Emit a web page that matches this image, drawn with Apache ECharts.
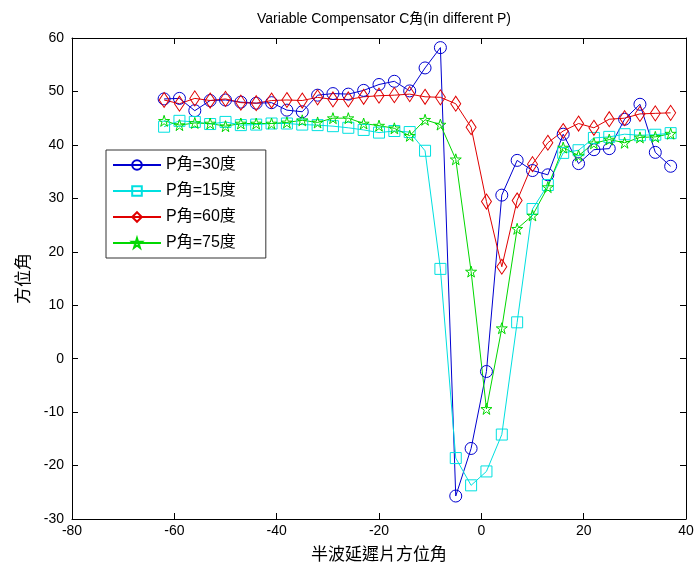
<!DOCTYPE html>
<html>
<head>
<meta charset="utf-8">
<script src="https://cdn.jsdelivr.net/npm/echarts@6/dist/echarts.min.js"></script>
<style>html,body{margin:0;padding:0;background:#fff}#c{width:697px;height:571px}</style>
</head>
<body>
<div id="c"></div>
<script>
const xValues = [-62,-59,-56,-53,-50,-47,-44,-41,-38,-35,-32,-29,-26,-23,-20,-17,-14,-11,-8,-5,-2,1,4,7,10,13,16,19,22,25,28,31,34,37];
const p30 = [48.6,48.7,46.4,48.3,48.4,48.0,47.8,47.9,46.5,46.2,49.3,49.6,49.5,50.2,51.3,51.9,50.1,54.4,58.2,-25.7,-16.8,-2.4,30.6,37.1,35.2,34.4,42.0,36.5,39.1,39.3,44.8,47.6,38.6,36.0];
const p15 = [43.4,44.5,44.3,43.9,44.3,43.7,43.8,44.0,44.0,43.8,43.7,43.5,43.2,42.8,42.3,42.6,42.4,38.9,16.8,-18.6,-23.7,-21.1,-14.2,6.8,28.0,32.5,38.5,39.0,41.3,41.5,42.0,41.8,41.9,42.2];
const p60 = [48.4,47.7,48.7,48.3,48.6,47.9,47.8,48.3,48.4,48.3,48.9,48.5,48.5,49.0,49.2,49.3,49.5,49.0,48.9,47.7,43.3,29.4,17.2,29.6,36.4,40.4,42.6,44.0,43.2,44.8,45.0,45.8,45.9,46.0];
const p75 = [44.5,43.7,44.1,44.0,43.5,44.0,44.0,44.0,44.2,44.6,44.2,45.0,45.0,44.0,43.6,43.1,41.7,44.7,43.8,37.3,16.3,-9.4,5.7,24.3,26.8,32.1,39.5,38.0,40.3,41.0,40.4,41.4,41.5,42.1];
const seriesNames = ['P角=30度','P角=15度','P角=60度','P角=75度'];
const xTicks = {min:-80, max:40, interval:20};
const yTicks = {min:-30, max:60, interval:10};

const FONT = "'Liberation Sans Narrow','Liberation Sans',Arial,'Noto Sans CJK TC','Noto Sans CJK SC',sans-serif";
const STAR = 'path://M50,0 L61.2,34.5 L97.6,34.5 L68.2,55.9 L79.4,90.5 L50,69.1 L20.6,90.5 L31.8,55.9 L2.4,34.5 L38.8,34.5 Z';

function pairs(ys){ return xValues.map((x,i)=>[x, ys[i]]); }
function mk(name, ys, color, symbol, size){
  return {
    name, type:'line', data: pairs(ys), symbol, symbolSize: size,
    showAllSymbol:true, animation:false,
    lineStyle:{color, width:1},
    itemStyle:{color:'rgba(255,255,255,0)', borderColor:color, borderWidth:1},
    emphasis:{disabled:true},
    xAxisIndex:0, yAxisIndex:0
  };
}

const chart = echarts.init(document.getElementById('c'), null, {renderer:'canvas'});
const axisCommon = {
  axisLine:{show:true, onZero:false, lineStyle:{color:'#000', width:1}},
  axisTick:{show:true, inside:true, length:6, lineStyle:{color:'#000'}},
  splitLine:{show:false}
};
chart.setOption({
  backgroundColor:'#fff',
  animation:false,
  textStyle:{fontFamily:FONT},
  title:{
    text:'Variable Compensator C角(in different P)',
    left:379, top:7, textAlign:'center',
    textStyle:{fontFamily:FONT, fontSize:14, fontWeight:'normal', color:'#000'}
  },
  grid:{left:72, right:11, top:38, bottom:52, containLabel:false},
  legend:{
    data: seriesNames,
    orient:'vertical', left:106, top:150,
    itemWidth:48, itemHeight:12, itemGap:10,
    backgroundColor:'#fff', borderColor:'#333', borderWidth:1,
    padding:[7,30,7,6],
    textStyle:{fontFamily:FONT, fontSize:16, color:'#000'},
    selectedMode:false
  },
  xAxis:[
    Object.assign({type:'value', position:'bottom', min:xTicks.min, max:xTicks.max, interval:xTicks.interval,
      name:'半波延遲片方位角', nameLocation:'middle', nameGap:28,
      nameTextStyle:{fontFamily:FONT, fontSize:17, color:'#000'},
      axisLabel:{color:'#000', fontSize:14, fontFamily:FONT, margin:5}}, axisCommon),
    Object.assign({type:'value', position:'top', min:xTicks.min, max:xTicks.max, interval:xTicks.interval,
      axisLabel:{show:false}}, axisCommon)
  ],
  yAxis:[
    Object.assign({type:'value', position:'left', min:yTicks.min, max:yTicks.max, interval:yTicks.interval,
      name:'方位角', nameLocation:'middle', nameGap:36, nameRotate:90,
      nameTextStyle:{fontFamily:FONT, fontSize:17, color:'#000'},
      axisLabel:{color:'#000', fontSize:14, fontFamily:FONT, margin:8}}, axisCommon),
    Object.assign({type:'value', position:'right', min:yTicks.min, max:yTicks.max, interval:yTicks.interval,
      axisLabel:{show:false}}, axisCommon)
  ],
  series:[
    mk(seriesNames[0], p30, '#0000d0', 'circle', 12),
    mk(seriesNames[1], p15, '#00e0e0', 'rect', 11),
    mk(seriesNames[2], p60, '#e00000', 'diamond', [10,15]),
    mk(seriesNames[3], p75, '#00d800', STAR, 11)
  ]
});
</script>
</body>
</html>
